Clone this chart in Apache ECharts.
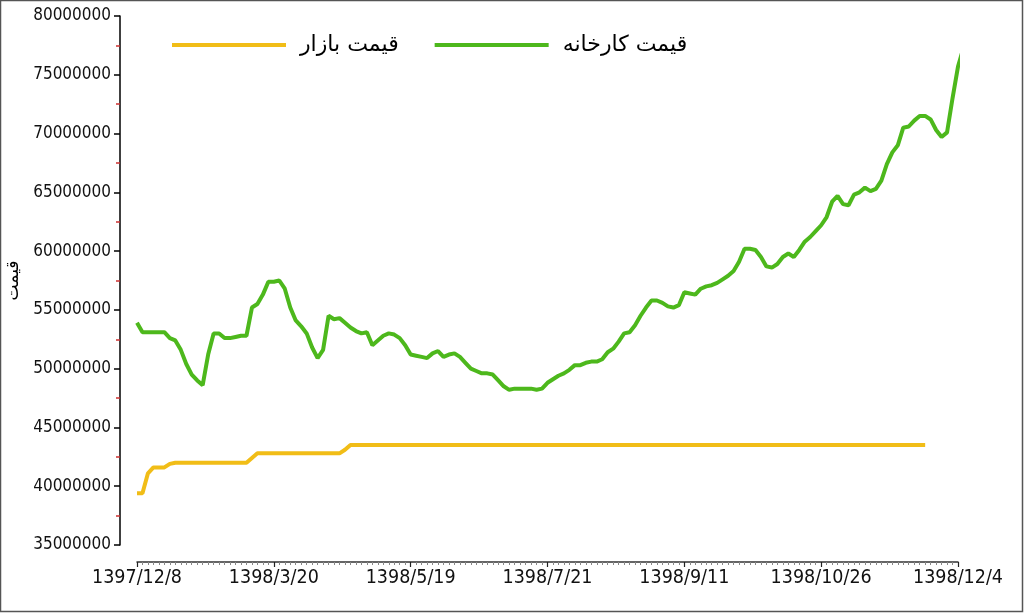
<!DOCTYPE html>
<html>
<head>
<meta charset="utf-8">
<script src="https://cdn.jsdelivr.net/npm/echarts@6/dist/echarts.min.js"></script>
<style>
html,body{margin:0;padding:0;background:#fff;}
#chart{width:1024px;height:613px;}
</style>
</head>
<body>
<div id="chart"></div>
<script>
// X tick labels (every 50 trading days)
const tickLabels = ['1397/12/8','1398/3/20','1398/5/19','1398/7/21','1398/9/11','1398/10/26','1398/12/4'];
const pointStep = 2; // index units between samples
const seriesNames = ['قیمت بازار', 'قیمت کارخانه'];
// Factory price (millions of rials)
const factoryPrice = [
53.9,53.1,53.1,53.1,53.1,53.1,52.6,52.4,51.6,50.4,
49.5,49.0,48.6,51.2,53.0,53.0,52.6,52.6,52.7,52.8,
52.8,55.2,55.5,56.3,57.4,57.4,57.5,56.8,55.2,54.1,
53.6,53.0,51.8,50.9,51.6,54.5,54.2,54.3,53.9,53.5,
53.2,53.0,53.1,52.0,52.4,52.8,53.0,52.9,52.6,52.0,
51.2,51.1,51.0,50.9,51.3,51.5,51.0,51.2,51.3,51.0,
50.5,50.0,49.8,49.6,49.6,49.5,49.0,48.5,48.2,48.3,
48.3,48.3,48.3,48.2,48.3,48.8,49.1,49.4,49.6,49.9,
50.3,50.3,50.5,50.6,50.6,50.8,51.4,51.7,52.3,53.0,
53.1,53.7,54.5,55.2,55.8,55.8,55.6,55.3,55.2,55.4,
56.5,56.4,56.3,56.8,57.0,57.1,57.3,57.6,57.9,58.3,
59.1,60.2,60.2,60.1,59.5,58.7,58.6,58.9,59.5,59.8,
59.5,60.1,60.8,61.2,61.7,62.2,62.9,64.2,64.7,64.0,
63.9,64.8,65.0,65.4,65.1,65.3,66.0,67.4,68.4,69.0,
70.5,70.6,71.1,71.5,71.5,71.2,70.3,69.7,70.1,73.0,
75.7,77.3
];
// Market price (millions of rials)
const marketPrice = [
39.4,39.4,41.1,41.6,41.6,41.6,41.9,42.0,42.0,42.0,
42.0,42.0,42.0,42.0,42.0,42.0,42.0,42.0,42.0,42.0,
42.0,42.4,42.8,42.8,42.8,42.8,42.8,42.8,42.8,42.8,
42.8,42.8,42.8,42.8,42.8,42.8,42.8,42.8,43.1,43.5,
43.5,43.5,43.5,43.5,43.5,43.5,43.5,43.5,43.5,43.5,
43.5,43.5,43.5,43.5,43.5,43.5,43.5,43.5,43.5,43.5,
43.5,43.5,43.5,43.5,43.5,43.5,43.5,43.5,43.5,43.5,
43.5,43.5,43.5,43.5,43.5,43.5,43.5,43.5,43.5,43.5,
43.5,43.5,43.5,43.5,43.5,43.5,43.5,43.5,43.5,43.5,
43.5,43.5,43.5,43.5,43.5,43.5,43.5,43.5,43.5,43.5,
43.5,43.5,43.5,43.5,43.5,43.5,43.5,43.5,43.5,43.5,
43.5,43.5,43.5,43.5,43.5,43.5,43.5,43.5,43.5,43.5,
43.5,43.5,43.5,43.5,43.5,43.5,43.5,43.5,43.5,43.5,
43.5,43.5,43.5,43.5,43.5,43.5,43.5,43.5,43.5,43.5,
43.5,43.5,43.5,43.5,43.5
];
const yMin = 35000000, yMax = 80000000, yInterval = 5000000;

const toPairs = arr => arr.map((v, i) => [i * pointStep, v * 1e6]);
const axisFont = "'DejaVu Sans Condensed','Liberation Sans Narrow','DejaVu Sans',sans-serif";

const chart = echarts.init(document.getElementById('chart'), null, {renderer: 'canvas'});
chart.setOption({
  animation: false,
  backgroundColor: '#ffffff',
  grid: {left: 137, right: 66, top: 16, bottom: 68, containLabel: false, outerBoundsMode: 'none'},
  graphic: [{
    type: 'rect', shape: {x: 0.5, y: 0.5, width: 1022, height: 611},
    style: {fill: 'none', stroke: '#555', lineWidth: 1.5}, silent: true
  }],
  legend: {
    left: 167, top: 29,
    itemWidth: 114, itemHeight: 4, itemGap: 36,
    icon: 'rect',
    textStyle: {fontSize: 22, color: '#000', fontFamily: "'DejaVu Sans',sans-serif", padding: [0, 0, 0, 9]},
    data: seriesNames
  },
  xAxis: {
    type: 'value', min: 0, max: 300, interval: 50, offset: 17,
    axisLine: {show: true, onZero: false, lineStyle: {color: '#333', width: 1.5}},
    axisTick: {show: true, length: 5, lineStyle: {color: '#222', width: 1.2}},
    minorTick: {show: true, splitNumber: 25, length: 3, lineStyle: {color: '#888'}},
    axisLabel: {
      margin: 6, color: '#111', fontSize: 19.5, fontFamily: axisFont,
      formatter: v => tickLabels[Math.round(v / 50)] || ''
    },
    splitLine: {show: false}
  },
  yAxis: {
    type: 'value', min: yMin, max: yMax, interval: yInterval, offset: 17,
    name: 'قیمت', nameLocation: 'middle', nameRotate: 90, nameGap: 96,
    nameTextStyle: {fontSize: 17, color: '#000', fontFamily: "'DejaVu Sans',sans-serif"},
    axisLine: {show: true, onZero: false, lineStyle: {color: '#000', width: 1.5}},
    axisTick: {show: true, length: 6, lineStyle: {color: '#000', width: 1.5}},
    minorTick: {show: true, splitNumber: 2, length: 4, lineStyle: {color: '#cc3030', width: 1.5}},
    axisLabel: {margin: 9, color: '#111', fontSize: 17, fontFamily: axisFont, formatter: v => String(v)},
    splitLine: {show: false}
  },
  series: [
    {
      name: seriesNames[0], type: 'line', showSymbol: false, symbol: 'none', clip: false,
      data: toPairs(marketPrice),
      itemStyle: {color: '#F1BD17'},
      lineStyle: {color: '#F1BD17', width: 4}
    },
    {
      name: seriesNames[1], type: 'line', showSymbol: false, symbol: 'none', clip: false,
      data: toPairs(factoryPrice),
      itemStyle: {color: '#4DB81C'},
      lineStyle: {color: '#4DB81C', width: 4}
    }
  ]
});
</script>
</body>
</html>
